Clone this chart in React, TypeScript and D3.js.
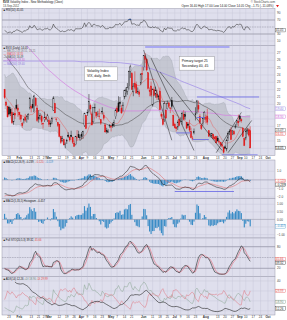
import React from "react";
import * as d3 from "d3";

// ---------------- DATA ----------------
// closes before the displayed window (Nov 1 - Dec 15, 2011), only used to warm up averages
const earlyCloses = [
  34.77, 32.74, 30.5, 30.16, 29.85, 29.23, 36.16, 32.81, 30.04, 31.13, 30.96, 32.91, 34.51, 32.0, 32.91, 33.0, 34.97, 34.47, 32.28, 31.35, 27.8,
  27.95, 27.52, 27.61, 27.04, 26.14, 30.59, 26.38, 27.91, 27.77, 26.0, 24.8,
];
// daily OHLC Dec 16, 2011 - Sep 13, 2012
const opens = [
  24.6, 25.0, 23.4, 22.6, 21.0, 20.6, 21.6, 21.9, 23.3, 23.0,
  22.5, 23.3, 22.6, 21.8, 21.4, 20.6, 21.2, 21.0, 21.6, 20.6, 22.0, 20.3, 19.7, 19.6, 19.3, 18.9, 17.6, 18.8, 19.9, 19.5,
  18.9, 18.5, 17.4, 17.8, 18.2, 17.9, 18.3, 19.6, 19.7, 20.0, 19.0, 20.8, 19.5, 18.0, 18.3, 18.4, 17.4, 17.9, 18.2, 17.9,
  17.8, 17.4, 17.5, 19.2, 20.1, 18.0, 17.5, 17.3, 15.6, 15.1, 15.2, 14.5, 15.0, 15.8, 15.5, 15.8, 15.5, 14.7, 14.5, 15.4, 15.9, 15.3,
  15.9, 15.6, 17.1, 18.5, 18.9, 19.0, 19.8, 18.7, 17.6, 19.5, 18.9, 18.6, 18.4, 17.9, 19.0, 18.5, 17.2, 16.4, 16.2, 17.0,
  17.0, 17.3, 17.2, 18.3, 19.5, 20.2, 20.3, 19.5, 19.9, 21.0, 21.5, 21.8, 22.4, 24.5, 24.2, 21.7, 22.9, 22.7, 21.6, 21.7, 22.9, 24.2,
  25.0, 26.5, 26.1, 24.3, 21.9, 22.5, 19.9, 22.0, 21.4, 21.4, 20.9, 21.8, 18.6, 18.0, 17.9, 19.2, 19.4, 20.2, 19.5, 20.5, 18.5,
  17.3, 16.9, 16.9, 17.9, 17.9, 17.6, 18.6, 18.6, 17.5, 17.3, 17.0, 16.3, 15.4, 16.1, 18.7, 18.9, 19.8, 18.3, 17.1, 17.4, 18.2,
  18.2, 18.4, 16.4, 15.9, 15.7, 15.9, 15.5, 15.6, 15.4, 14.9, 14.8, 14.5, 14.1, 14.2, 13.9, 15.4, 16.3, 16.5, 16.3, 16.3, 16.9, 17.5, 17.7,
  18.4, 17.9, 16.7, 15.3, 15.4, 16.3, 16.5, 16.4,
];
const highs = [
  25.6, 25.6, 23.5, 23.3, 21.3, 21.2, 22.3, 23.8, 23.5, 23.8,
  23.6, 23.4, 22.9, 21.9, 21.6, 21.5, 21.5, 21.3, 21.9, 22.3, 22.1, 20.5, 19.8, 19.8, 19.6, 19.5, 18.9, 19.5, 20.7, 20.0,
  19.0, 18.6, 17.6, 18.1, 18.7, 18.5, 18.8, 21.0, 20.0, 20.7, 21.3, 21.0, 19.9, 19.2, 18.8, 18.6, 17.5, 19.0, 18.4, 18.7,
  18.0, 17.8, 18.3, 21.1, 20.2, 18.1, 17.6, 17.3, 15.7, 15.7, 15.3, 14.8, 15.3, 16.2, 15.6, 16.4, 15.6, 14.9, 15.7, 16.5, 16.4, 15.8,
  16.2, 16.4, 18.8, 18.5, 19.3, 21.4, 20.1, 19.0, 19.6, 20.1, 19.0, 19.1, 19.4, 18.0, 19.6, 18.9, 17.4, 16.8, 16.6, 17.3,
  17.2, 17.5, 17.9, 19.4, 19.8, 21.1, 21.0, 19.9, 20.3, 22.0, 22.3, 22.9, 24.6, 25.4, 24.4, 22.9, 24.5, 23.1, 22.3, 22.0, 24.2, 25.1,
  26.7, 27.0, 26.3, 24.3, 22.3, 23.1, 22.1, 22.4, 22.4, 22.0, 21.3, 22.3, 18.9, 18.7, 20.4, 19.3, 20.5, 20.3, 19.6, 21.0, 18.6,
  17.5, 17.0, 17.8, 18.1, 18.2, 19.0, 19.2, 19.0, 17.6, 17.5, 17.9, 16.8, 15.7, 16.7, 19.6, 20.6, 20.5, 18.7, 17.3, 18.1, 19.1,
  18.6, 19.4, 16.4, 16.1, 16.1, 16.0, 15.7, 15.7, 15.7, 15.2, 14.9, 14.7, 14.3, 14.4, 15.3, 16.3, 16.6, 16.9, 16.5, 16.5, 17.3, 17.9, 18.6,
  18.5, 18.1, 16.9, 15.5, 16.5, 16.8, 16.7, 17.0,
];
const lows = [
  23.8, 24.0, 22.0, 21.1, 20.0, 20.0, 21.2, 21.6, 22.4, 22.5,
  22.1, 22.0, 21.3, 20.5, 20.7, 20.4, 20.6, 20.1, 20.6, 20.5, 20.7, 19.7, 18.2, 18.5, 18.4, 17.3, 17.2, 18.0, 19.3, 18.3,
  17.9, 17.6, 16.8, 17.4, 17.6, 17.5, 17.9, 19.3, 18.9, 19.4, 18.9, 19.7, 17.6, 17.5, 17.9, 17.2, 16.7, 17.6, 17.8, 17.6,
  16.9, 16.9, 17.3, 19.1, 18.8, 17.6, 16.9, 15.5, 14.6, 14.9, 14.4, 14.0, 14.6, 15.4, 14.9, 15.5, 14.6, 14.2, 14.4, 15.1, 15.4, 15.0,
  15.2, 15.3, 16.9, 16.6, 18.4, 18.9, 18.6, 17.1, 17.5, 18.8, 18.1, 18.3, 17.9, 17.2, 18.6, 17.8, 16.1, 16.0, 16.1, 16.8,
  16.3, 16.8, 16.9, 18.0, 18.8, 19.0, 19.6, 18.7, 19.0, 20.7, 21.0, 21.3, 22.0, 23.6, 22.0, 21.1, 22.1, 21.5, 21.4, 21.0, 22.6, 23.3,
  24.6, 25.6, 24.5, 22.0, 21.1, 21.0, 19.7, 21.1, 20.9, 20.6, 20.6, 19.2, 18.0, 17.1, 17.6, 18.1, 19.3, 19.5, 18.8, 19.4, 17.0,
  16.7, 16.3, 16.5, 17.0, 17.6, 17.2, 17.8, 17.9, 16.6, 16.8, 16.2, 15.4, 15.1, 15.9, 17.8, 18.7, 18.9, 17.3, 16.5, 17.1, 17.9,
  17.4, 17.2, 15.6, 15.5, 15.4, 15.2, 15.1, 14.7, 14.9, 14.5, 14.3, 14.1, 13.3, 13.9, 13.6, 15.0, 15.8, 15.1, 15.8, 15.8, 16.7, 17.1, 17.0,
  17.6, 17.5, 15.5, 14.3, 15.1, 15.9, 15.6, 14.0,
];
const closes = [
  24.29, 24.64, 22.22, 21.43, 20.15, 20.73, 21.91, 23.52, 22.65, 23.4,
  22.97, 22.22, 21.48, 20.63, 21.07, 20.69, 21.05, 20.47, 20.91, 22.2, 20.89, 19.87, 18.28, 18.67, 18.75, 17.48, 18.57, 18.53, 19.44, 19.2,
  18.55, 17.98, 17.1, 17.98, 17.84, 18.4, 18.63, 20.79, 19.46, 19.54, 21.14, 19.83, 17.78, 18.19, 18.45, 17.63, 17.31, 18.19, 17.95, 18.43,
  17.26, 17.29, 18.05, 20.87, 18.83, 17.95, 17.11, 15.64, 14.8, 15.31, 14.47, 14.57, 15.04, 15.58, 15.13, 15.57, 14.82, 14.26, 15.59, 15.47, 15.48, 15.5,
  15.64, 16.29, 18.81, 16.7, 18.81, 20.39, 19.36, 17.2, 19.55, 19.6, 18.46, 18.64, 18.36, 17.44, 18.97, 18.1, 16.24, 16.28, 16.32, 17.15,
  16.88, 17.05, 17.56, 19.16, 18.94, 19.05, 20.08, 18.83, 19.89, 21.87, 21.97, 22.27, 24.49, 25.1, 22.01, 22.48, 22.33, 21.54, 21.76, 21.35, 24.14, 24.06,
  26.66, 26.12, 24.68, 22.16, 21.72, 21.23, 22.09, 21.21, 21.88, 20.94, 21.11, 19.25, 18.35, 17.24, 20.08, 18.11, 20.11, 19.72, 19.45, 19.71, 17.08,
  16.8, 16.66, 17.5, 17.1, 17.98, 18.72, 17.95, 18.33, 16.74, 17.11, 16.48, 15.45, 15.35, 16.27, 18.62, 20.47, 19.34, 17.53, 16.7, 18.03, 18.93,
  17.96, 17.57, 15.64, 15.95, 15.99, 15.32, 15.28, 14.74, 15.02, 14.85, 14.48, 14.29, 13.45, 14.02, 15.11, 15.98, 16.27, 15.18, 16.35, 15.95, 17.06, 17.83, 17.47,
  17.98, 17.74, 15.6, 14.38, 16.28, 16.41, 15.8, 14.05,
];
// long moving averages
const maWeekDates = [
  "2012-01-17", "2012-01-23", "2012-01-30", "2012-02-06", "2012-02-13", "2012-02-21", "2012-02-27", "2012-03-05", "2012-03-12",
  "2012-03-19", "2012-03-26", "2012-04-02", "2012-04-09", "2012-04-16", "2012-04-23", "2012-04-30", "2012-05-07", "2012-05-14",
  "2012-05-21", "2012-05-29", "2012-06-04", "2012-06-11", "2012-06-18", "2012-06-25", "2012-07-02", "2012-07-09", "2012-07-16",
  "2012-07-23", "2012-07-30", "2012-08-06", "2012-08-13", "2012-08-20", "2012-08-27", "2012-09-04", "2012-09-10", "2012-09-13",
];
const ma100Values = [
  31.0, 30.5, 29.6, 28.5, 27.3, 26.2, 25.2, 24.3, 23.4, 22.6, 21.9, 21.3, 20.8, 20.4, 20.0, 19.6, 19.3, 19.1,
  19.1, 19.1, 19.2, 19.2, 19.2, 19.2, 19.1, 19.1, 19.0, 19.0, 18.9, 18.8, 18.7, 18.5, 18.5, 18.4, 18.3, 18.3,
];
const ma200Values = [
  25.9, 25.9, 25.9, 25.9, 25.9, 25.9, 25.9, 25.9, 25.9, 25.9, 25.9, 25.8, 25.8, 25.8, 25.8, 25.7, 25.7, 25.6,
  25.5, 25.3, 25.1, 24.8, 24.4, 24.0, 23.6, 23.2, 22.8, 22.4, 22.0, 21.6, 21.2, 20.8, 20.4, 20.0, 19.6, 19.4,
];
const tickDates = [
  "2012-01-23", "2012-02-01", "2012-02-13", "2012-02-21", "2012-02-27", "2012-03-01", "2012-03-12", "2012-03-19", "2012-03-26",
  "2012-04-02", "2012-04-09", "2012-04-16", "2012-04-23", "2012-05-01", "2012-05-07", "2012-05-14", "2012-05-21", "2012-06-01",
  "2012-06-11", "2012-06-18", "2012-06-25", "2012-07-02", "2012-07-09", "2012-07-16", "2012-07-23", "2012-08-01", "2012-08-13",
  "2012-08-20", "2012-08-27", "2012-09-04", "2012-09-10", "2012-09-17", "2012-09-24", "2012-10-01",
];
const tickLabels = [
  "23", "Feb", "13", "21", "27", "Mar", "12", "19", "26", "Apr", "9", "16", "23", "May", "7", "14", "21", "Jun",
  "11", "18", "25", "Jul", "9", "16", "23", "Aug", "13", "20", "27", "Sep", "10", "17", "24", "Oct",
];
const holidays = ["2011-11-24", "2011-12-26", "2012-01-02", "2012-01-16", "2012-02-20", "2012-04-06", "2012-05-28", "2012-07-04", "2012-09-03"];
const mainTicks = [14, 15, 16, 17, 18, 19, 20, 21, 22, 23, 24, 25, 26, 27];
const rsiTicks = [90, 70, 50, 30, 10];
const stochTicks = [80, 50, 20];
// drawn trend lines (start date/value -> end date/value)
const trendStartDates = ["2012-06-01", "2012-06-08", "2012-06-18", "2012-08-10", "2012-08-22"];
const trendStartValues = [27.4, 26.3, 24.4, 13.4, 13.4];
const trendEndDates = ["2012-06-28", "2012-07-20", "2012-08-16", "2012-09-05", "2012-09-14"];
const trendEndValues = [15.1, 13.7, 13.7, 18.9, 17.8];
// horizontal levels
const levelStartDates = ["2012-07-24", "2012-07-24", "2012-07-03", "2012-07-19", "2012-08-16"];
const levelEndDates = ["2012-09-21", "2012-07-31", "2012-07-18", "2012-08-03", "2012-09-20"];
const levelValues = [21.0, 18.2, 16.1, 15.2, 13.1];
const macdLevel = { start: "2012-07-02", end: "2012-08-28", value: -1.35 };
const topBar = { start: "2012-06-04", end: "2012-08-23" };
const note1 = { date: "2012-04-04", value: 25.1, lines: ["Volatility Index", "VIX, daily, 8mth"] };
const note2 = { date: "2012-07-06", value: 26.5, lines: ["Primary target 25", "Secondary 40, 45"] };

// ---------------- HELPERS ----------------
function tradingDays(start: string, end: string): string[] {
  const p = d3.timeParse("%Y-%m-%d");
  const fmt = d3.timeFormat("%Y-%m-%d");
  return d3.timeDay
    .range(p(start)!, d3.timeDay.offset(p(end)!, 1))
    .filter((d) => d.getDay() !== 0 && d.getDay() !== 6)
    .map(fmt)
    .filter((s) => !holidays.includes(s));
}
function sma(a: number[], n: number, partial = false): number[] {
  return a.map((_, i) => {
    if (i < n - 1 && !partial) return NaN;
    const s = a.slice(Math.max(0, i - n + 1), i + 1).filter((v) => !isNaN(v));
    return s.length ? (d3.mean(s) as number) : NaN;
  });
}
function psd(a: number[], n: number): number[] {
  return a.map((_, i) => {
    if (i < n - 1) return NaN;
    const s = a.slice(i - n + 1, i + 1);
    const m = d3.mean(s) as number;
    return Math.sqrt(d3.mean(s.map((v) => (v - m) * (v - m))) as number);
  });
}
function ema(a: number[], n: number): number[] {
  const k = 2 / (n + 1);
  let prev = a[0];
  return a.map((v, i) => (prev = i === 0 ? v : v * k + prev * (1 - k)));
}
function rsi(a: number[], n: number): number[] {
  const out = a.map(() => NaN);
  let g = 0, l = 0;
  for (let i = 1; i <= n; i++) {
    const d = a[i] - a[i - 1];
    if (d > 0) g += d; else l -= d;
  }
  g /= n; l /= n;
  out[n] = 100 - 100 / (1 + g / l);
  for (let i = n + 1; i < a.length; i++) {
    const d = a[i] - a[i - 1];
    g = (g * (n - 1) + Math.max(d, 0)) / n;
    l = (l * (n - 1) + Math.max(-d, 0)) / n;
    out[i] = 100 - 100 / (1 + g / l);
  }
  return out;
}
// standard Wilder ADX: first ADX is the mean of the first n DX values
function adxCalc(h: number[], l: number[], c: number[], n: number) {
  const len = c.length;
  const pdi = Array(len).fill(NaN), mdi = Array(len).fill(NaN), adx = Array(len).fill(NaN);
  let sTR = 0, sP = 0, sM = 0, av = NaN;
  const dxs: number[] = [];
  for (let i = 1; i < len; i++) {
    const tr = Math.max(h[i] - l[i], Math.abs(h[i] - c[i - 1]), Math.abs(l[i] - c[i - 1]));
    const up = h[i] - h[i - 1], dn = l[i - 1] - l[i];
    const p = up > dn && up > 0 ? up : 0, m = dn > up && dn > 0 ? dn : 0;
    if (i <= n) {
      sTR += tr; sP += p; sM += m;
      if (i < n) continue;
    } else {
      sTR = sTR - sTR / n + tr; sP = sP - sP / n + p; sM = sM - sM / n + m;
    }
    const P = (100 * sP) / sTR, M = (100 * sM) / sTR;
    const dx = (100 * Math.abs(P - M)) / (P + M || 1);
    pdi[i] = P; mdi[i] = M;
    if (dxs.length < n) {
      dxs.push(dx);
      if (dxs.length === n) {
        av = d3.mean(dxs) as number;
        adx[i] = av;
      }
    } else {
      av = (av * (n - 1) + dx) / n;
      adx[i] = av;
    }
  }
  return { pdi, mdi, adx };
}

// ---------------- COMPUTE ----------------
const dataDates = tradingDays("2011-12-16", "2012-09-13");
const slotDates = tradingDays("2012-01-17", "2012-10-05");
const N = Math.min(dataDates.length, closes.length, opens.length, highs.length, lows.length);
const slotOf = new Map(slotDates.map((d, i) => [d, i] as [string, number]));
const START = dataDates.indexOf("2012-01-18");
const OFF = earlyCloses.length;
const allC = earlyCloses.concat(closes.slice(0, N));

const ma10 = sma(allC, 10), ma50 = sma(allC, 50), bbMid = sma(allC, 20), bbSd = psd(allC, 20);
const e12 = ema(allC, 12), e26 = ema(allC, 26);
const macd = e12.map((v, i) => v - e26[i]);
const sig = ema(macd, 9);
const hist = macd.map((v, i) => v - sig[i]);
const e5 = ema(allC, 5), e35 = ema(allC, 35);
const m2 = e5.map((v, i) => v - e35[i]);
const s2 = ema(m2, 5);
const h2 = m2.map((v, i) => v - s2[i]);
const rsiV = rsi(allC, 14);
const rawK = closes.slice(0, N).map((c, i) => {
  const s = Math.max(0, i - 19);
  const hh = d3.max(highs.slice(s, i + 1)) as number, ll = d3.min(lows.slice(s, i + 1)) as number;
  return (100 * (c - ll)) / (hh - ll || 1);
});
const kSlow = sma(rawK, 5, true), dSlow = sma(kSlow, 3, true);
const ADX = adxCalc(highs, lows, closes, 14);

const idx = d3.range(START, N);
const LAST = N - 1;

// ---------------- LAYOUT ----------------
const PL = 2, PR = 275;
const panels = {
  rsi: [8.5, 45.5],
  main: [45.5, 155.5],
  macd: [160, 198.5],
  h2: [198.5, 238],
  stoch: [238, 276.5],
  adx: [276.5, 315],
};
const BG = "#dfdfed";
const GRID = "#c5c5d6";
const FONT = "'Liberation Sans', Arial, sans-serif";
const RED = "#e01a1a";
const BLUE = "#3a8cc6";

const x = d3.scaleLinear().domain([0, slotDates.length - 1]).range([3.1, 273.9]);
const xs = (d: string) => x(slotOf.get(d) ?? 0);
const xi = (i: number) => xs(dataDates[i]);

const yMain = d3.scaleLinear().domain([13.02, 28.02]).range([panels.main[1], panels.main[0]]);
const yRsi = d3.scaleLinear().domain([0, 100]).range([44.5, 9.5]);
const yStoch = d3.scaleLinear().domain([0, 100]).range([275.5, 239.5]);
function fitScale(vals: number[], top: number, bottom: number, padFrac = 0.08) {
  const ext = d3.extent(vals.filter((v) => isFinite(v))) as [number, number];
  const pad = (ext[1] - ext[0]) * padFrac;
  return d3.scaleLinear().domain([ext[0] - pad, ext[1] + pad]).range([bottom, top]);
}
const yMacd = fitScale(idx.flatMap((i) => [macd[i + OFF], sig[i + OFF], hist[i + OFF], macdLevel.value]), panels.macd[0] + 3, panels.macd[1]);
const yH2 = fitScale(idx.map((i) => h2[i + OFF]).concat([0]), panels.h2[0] + 2.5, panels.h2[1]);
const yAdx = fitScale(idx.flatMap((i) => [ADX.pdi[i], ADX.mdi[i], ADX.adx[i]]), panels.adx[0] + 3, panels.adx[1]);

const f2 = d3.format(".2f");
const f3 = d3.format(".3f");

function linePath(get: (i: number) => number, y: d3.ScaleLinear<number, number>, ids = idx) {
  return (
    d3
      .line<number>()
      .defined((i) => isFinite(get(i)))
      .x((i) => xi(i))
      .y((i) => y(get(i)))(ids) || ""
  );
}

function Panel({ k, id }: { k: keyof typeof panels; id: string }) {
  const [t, b] = panels[k];
  return (
    <g>
      <rect x={PL} y={t} width={PR - PL} height={b - t} fill={BG} stroke="#9898aa" strokeWidth={0.5} />
      <clipPath id={id}>
        <rect x={PL} y={t} width={PR - PL} height={b - t} />
      </clipPath>
      {tickDates.map((d, j) => (
        <line key={j} x1={xs(d)} x2={xs(d)} y1={t} y2={b} stroke={GRID} strokeWidth={0.4} />
      ))}
    </g>
  );
}
function HGrid({ ys }: { ys: number[] }) {
  return (
    <g>
      {ys.map((y, j) => (
        <line key={j} x1={PL} x2={PR} y1={y} y2={y} stroke={GRID} strokeWidth={0.4} />
      ))}
    </g>
  );
}
// right axis labels; labels hidden behind value tags are skipped (as the original does)
function AxisLabels({ ys, labels, tags = [] }: { ys: number[]; labels: string[]; tags?: number[] }) {
  return (
    <g fontSize={3.1} fill="#444">
      {ys.map((y, j) =>
        tags.some((t) => Math.abs(t - y) < 3.6) ? null : (
          <text key={j} x={277} y={y + 1.1}>
            {labels[j]}
          </text>
        )
      )}
    </g>
  );
}
function Tag({ y, text, color }: { y: number; text: string; color: string }) {
  return (
    <g>
      <rect x={275.3} y={y - 1.8} width={10.5} height={3.6} fill="#fff" stroke={color} strokeWidth={0.35} />
      <text x={276.1} y={y + 1.05} fontSize={2.9} fill={color}>
        {text}
      </text>
    </g>
  );
}
// spread tag positions so that they do not overlap
function spread(ys: number[], gap = 3.8): number[] {
  const order = ys.map((y, i) => [y, i]).sort((a, b) => a[0] - b[0]);
  const out = ys.slice();
  let prev = -Infinity;
  order.forEach(([y, i]) => {
    const ny = Math.max(y, prev + gap);
    out[i] = ny;
    prev = ny;
  });
  return out;
}
function XLabels({ y }: { y: number }) {
  return (
    <g fontSize={3.1} fill="#333" textAnchor="middle">
      {tickDates.map((d, j) => (
        <text key={j} x={xs(d)} y={y} fontWeight={/^[A-Z]/.test(tickLabels[j]) ? "bold" : "normal"}>
          {tickLabels[j]}
        </text>
      ))}
    </g>
  );
}

export default function App() {
  const lastClose = closes[LAST];
  const chg = lastClose - closes[LAST - 1];
  const bbArea = d3
    .area<number>()
    .x((i) => xi(i))
    .y0((i) => yMain(bbMid[i + OFF] - 2 * bbSd[i + OFF]))
    .y1((i) => yMain(bbMid[i + OFF] + 2 * bbSd[i + OFF]))(idx) || "";
  const weekLine = (vals: number[]) =>
    d3
      .line<number>()
      .x((j) => xs(maWeekDates[j]))
      .y((j) => yMain(vals[j]))
      .curve(d3.curveMonotoneX)(d3.range(maWeekDates.length)) || "";
  const rsiAbove = d3
    .area<number>()
    .defined((i) => isFinite(rsiV[i + OFF]))
    .x((i) => xi(i))
    .y0(yRsi(70))
    .y1((i) => yRsi(Math.max(70, rsiV[i + OFF])))(idx) || "";
  const rsiBelow = d3
    .area<number>()
    .defined((i) => isFinite(rsiV[i + OFF]))
    .x((i) => xi(i))
    .y0(yRsi(30))
    .y1((i) => yRsi(Math.min(30, rsiV[i + OFF])))(idx) || "";
  const bw = (x(1) - x(0)) * 0.78;
  const macdTicks = yMacd.ticks(5);
  const h2Ticks = yH2.ticks(5);
  const adxTicks = yAdx.ticks(4);

  const ma200L = ma200Values[ma200Values.length - 1];
  const ma100L = ma100Values[ma100Values.length - 1];
  const mainTagVals = [ma200L, ma100L, ma10[LAST + OFF], ma50[LAST + OFF], lastClose];
  const mainTagCols = ["#8a76de", "#c65ed2", "#e04a4a", "#555", "#111"];
  const mainTagYs = spread(mainTagVals.map((v) => yMain(v)));
  const macdTagVals = [macd[LAST + OFF], sig[LAST + OFF]];
  const macdTagYs = spread(macdTagVals.map((v) => yMacd(v)));
  const stoTagVals = [dSlow[LAST], kSlow[LAST]];
  const stoTagYs = spread(stoTagVals.map((v) => yStoch(v)));
  const adxTagVals = [ADX.mdi[LAST], ADX.pdi[LAST], ADX.adx[LAST]];
  const adxTagCols = ["#e04a4a", "#6f8a7a", "#222"];
  const adxTagYs = spread(adxTagVals.map((v) => yAdx(v)));
  const rsiTagY = yRsi(rsiV[LAST + OFF]);
  const h2TagY = yH2(h2[LAST + OFF]);

  return (
    <svg width={287} height={320} style={{ position: "absolute", left: 0, top: 0, background: "#fff" }} fontFamily={FONT}>
      {/* header */}
      <text x={3} y={3.3} fontSize={3} fill="#222" textLength={60} lengthAdjust="spacingAndGlyphs">
        <tspan fontWeight="bold">$VIX</tspan> Volatility Index - New Methodology (Cboe)
      </text>
      <text x={3} y={6.6} fontSize={2.8} fill="#444">
        13-Sep-2012
      </text>
      <text x={275} y={3.1} fontSize={2.8} fill="#444" textAnchor="end">
        © StockCharts.com
      </text>
      <text x={181.5} y={6.6} fontSize={2.8} fill="#222" textLength={92} lengthAdjust="spacingAndGlyphs">
        Open {f2(opens[LAST])} High {f2(highs[LAST])} Low {f2(lows[LAST])} Close {f2(lastClose)} Chg {f2(chg)} ({f2((chg / closes[LAST - 1]) * 100)}%)
      </text>
      <path d="M276,5 L279,5 L277.5,7.2 Z" fill={RED} />

      {/* ---------- RSI panel ---------- */}
      <Panel k="rsi" id="c-rsi" />
      <HGrid ys={rsiTicks.map((v) => yRsi(v))} />
      <line x1={PL} x2={PR} y1={yRsi(70)} y2={yRsi(70)} stroke="#7a7a8a" strokeWidth={0.5} />
      <line x1={PL} x2={PR} y1={yRsi(30)} y2={yRsi(30)} stroke="#7a7a8a" strokeWidth={0.5} />
      <line x1={PL} x2={PR} y1={yRsi(50)} y2={yRsi(50)} stroke="#8a8a9a" strokeWidth={0.4} strokeDasharray="1.5,1" />
      <g clipPath="url(#c-rsi)">
        <path d={rsiAbove} fill="#3a6fd0" />
        <path d={rsiBelow} fill="#3a6fd0" />
        <path d={linePath((i) => rsiV[i + OFF], yRsi)} fill="none" stroke="#333" strokeWidth={0.55} />
      </g>
      <text x={3.5} y={11.3} fontSize={2.8} fill="#222">
        ■ RSI(14) {f2(rsiV[LAST + OFF])}
      </text>
      <AxisLabels ys={rsiTicks.map((v) => yRsi(v))} labels={rsiTicks.map(String)} tags={[rsiTagY]} />
      <Tag y={rsiTagY} text={f2(rsiV[LAST + OFF])} color="#333" />

      {/* ---------- main price panel ---------- */}
      <Panel k="main" id="c-main" />
      <HGrid ys={mainTicks.map((v) => yMain(v))} />
      <g clipPath="url(#c-main)">
        <path d={bbArea} fill="#b4b8c0" opacity={0.6} />
        <path d={linePath((i) => bbMid[i + OFF] + 2 * bbSd[i + OFF], yMain)} fill="none" stroke="#a2a6b0" strokeWidth={0.4} />
        <path d={linePath((i) => bbMid[i + OFF] - 2 * bbSd[i + OFF], yMain)} fill="none" stroke="#a2a6b0" strokeWidth={0.4} />
        <path d={weekLine(ma200Values)} fill="none" stroke="#9c88e6" strokeWidth={0.7} />
        <path d={weekLine(ma100Values)} fill="none" stroke="#d67ee2" strokeWidth={0.7} />
        <path d={linePath((i) => ma50[i + OFF], yMain)} fill="none" stroke="#4a4a4a" strokeWidth={0.55} />
        <path d={linePath((i) => ma10[i + OFF], yMain)} fill="none" stroke="#e46a6a" strokeWidth={0.55} />
        {idx.map((i) => {
          const cx = xi(i);
          const col = closes[i] >= closes[i - 1] ? "#111" : RED;
          const filled = closes[i] < opens[i];
          const yt = yMain(Math.max(opens[i], closes[i]));
          const yb = yMain(Math.min(opens[i], closes[i]));
          return (
            <g key={i}>
              <line x1={cx} x2={cx} y1={yMain(highs[i])} y2={yMain(lows[i])} stroke={col} strokeWidth={0.5} />
              <rect x={cx - bw / 2} y={yt} width={bw} height={Math.max(0.4, yb - yt)} fill={filled ? col : BG} stroke={col} strokeWidth={0.35} />
            </g>
          );
        })}
        {trendStartDates.map((d, j) => (
          <line key={j} x1={xs(d)} y1={yMain(trendStartValues[j])} x2={xs(trendEndDates[j])} y2={yMain(trendEndValues[j])} stroke="#1a1a1a" strokeWidth={0.5} />
        ))}
        {levelStartDates.map((d, j) => (
          <line key={j} x1={xs(d)} x2={xs(levelEndDates[j])} y1={yMain(levelValues[j])} y2={yMain(levelValues[j])} stroke="#6464e4" strokeWidth={0.8} />
        ))}
        <line x1={xs(topBar.start)} x2={xs(topBar.end)} y1={panels.main[0] + 1.4} y2={panels.main[0] + 1.4} stroke="#a9a9f2" strokeWidth={2} />
      </g>
      {[note1, note2].map((n, j) => {
        const bx = xs(n.date), by = yMain(n.value);
        const w = j === 0 ? 33 : 35;
        return (
          <g key={j}>
            <rect x={bx} y={by} width={w} height={13.5} fill="#fff" stroke="#888" strokeWidth={0.4} />
            <text x={bx + 2.5} y={by + 5} fontSize={3.4} fill="#111">
              {n.lines[0]}
            </text>
            <text x={bx + 2.5} y={by + 10} fontSize={3.4} fill="#111">
              {n.lines[1]}
            </text>
          </g>
        );
      })}
      <g fontSize={2.7}>
        <text x={3.5} y={48.6} fill="#111">■ $VIX (Daily) {f2(lastClose)}</text>
        <text x={3.5} y={51.8} fill="#777">— BB(20,2.0) {f2(bbMid[LAST + OFF] + 2 * bbSd[LAST + OFF])}, {f2(bbMid[LAST + OFF] - 2 * bbSd[LAST + OFF])}</text>
        <text x={3.5} y={55} fill="#e04a4a">— MA(10) {f2(ma10[LAST + OFF])}</text>
        <text x={3.5} y={58.2} fill="#444">— MA(50) {f2(ma50[LAST + OFF])}</text>
        <text x={3.5} y={61.4} fill="#c65ed2">— MA(100) {f2(ma100L)}</text>
        <text x={3.5} y={64.6} fill="#8a76de">— MA(200) {f2(ma200L)}</text>
      </g>
      <AxisLabels ys={mainTicks.map((v) => yMain(v))} labels={mainTicks.map((v) => String(v))} tags={mainTagYs} />
      {mainTagVals.map((v, j) => (
        <Tag key={j} y={mainTagYs[j]} text={f2(v)} color={mainTagCols[j]} />
      ))}
      <XLabels y={158.6} />

      {/* ---------- MACD panel ---------- */}
      <Panel k="macd" id="c-macd" />
      <HGrid ys={macdTicks.map((v) => yMacd(v))} />
      <g clipPath="url(#c-macd)">
        {idx.map((i) => {
          const v = hist[i + OFF];
          return <rect key={i} x={xi(i) - bw / 2} width={bw} y={Math.min(yMacd(0), yMacd(v))} height={Math.abs(yMacd(v) - yMacd(0))} fill={BLUE} />;
        })}
        <line x1={PL} x2={PR} y1={yMacd(0)} y2={yMacd(0)} stroke="#8a8a9a" strokeWidth={0.4} />
        <path d={linePath((i) => sig[i + OFF], yMacd)} fill="none" stroke="#e46a6a" strokeWidth={0.55} />
        <path d={linePath((i) => macd[i + OFF], yMacd)} fill="none" stroke="#222" strokeWidth={0.55} />
        <line x1={xs(macdLevel.start)} x2={xs(macdLevel.end)} y1={yMacd(macdLevel.value)} y2={yMacd(macdLevel.value)} stroke="#6464e4" strokeWidth={0.8} />
      </g>
      <text x={3.5} y={163} fontSize={2.7}>
        <tspan fill="#111">■ MACD(12,26,9) {f3(macd[LAST + OFF])}, </tspan>
        <tspan fill="#e04a4a">{f3(sig[LAST + OFF])}, </tspan>
        <tspan fill={BLUE}>{f3(hist[LAST + OFF])}</tspan>
      </text>
      <AxisLabels ys={macdTicks.map((v) => yMacd(v))} labels={macdTicks.map((v) => d3.format(".1f")(v))} tags={macdTagYs} />
      <Tag y={macdTagYs[0]} text={f3(macdTagVals[0])} color="#222" />
      <Tag y={macdTagYs[1]} text={f3(macdTagVals[1])} color="#e04a4a" />

      {/* ---------- second histogram panel ---------- */}
      <Panel k="h2" id="c-h2" />
      <HGrid ys={h2Ticks.map((v) => yH2(v))} />
      <g clipPath="url(#c-h2)">
        {idx.map((i) => {
          const v = h2[i + OFF];
          return <rect key={i} x={xi(i) - bw / 2} width={bw} y={Math.min(yH2(0), yH2(v))} height={Math.abs(yH2(v) - yH2(0))} fill={BLUE} />;
        })}
        <line x1={PL} x2={PR} y1={yH2(0)} y2={yH2(0)} stroke="#8a8a9a" strokeWidth={0.4} />
      </g>
      <text x={3.5} y={201.6} fontSize={2.7} fill="#111">
        ■ MACD(5,35,5) Histogram {f3(h2[LAST + OFF])}
      </text>
      <AxisLabels ys={h2Ticks.map((v) => yH2(v))} labels={h2Ticks.map((v) => d3.format(".2f")(v))} tags={[h2TagY]} />
      <Tag y={h2TagY} text={f3(h2[LAST + OFF])} color={BLUE} />

      {/* ---------- stochastics panel ---------- */}
      <Panel k="stoch" id="c-stoch" />
      <HGrid ys={stochTicks.map((v) => yStoch(v))} />
      <line x1={PL} x2={PR} y1={yStoch(80)} y2={yStoch(80)} stroke="#7a7a8a" strokeWidth={0.5} />
      <line x1={PL} x2={PR} y1={yStoch(20)} y2={yStoch(20)} stroke="#7a7a8a" strokeWidth={0.5} />
      <line x1={PL} x2={PR} y1={yStoch(50)} y2={yStoch(50)} stroke="#8a8a9a" strokeWidth={0.4} strokeDasharray="1.5,1" />
      <g clipPath="url(#c-stoch)">
        <path d={linePath((i) => dSlow[i], yStoch)} fill="none" stroke="#e46a7a" strokeWidth={0.6} />
        <path d={linePath((i) => kSlow[i], yStoch)} fill="none" stroke="#222" strokeWidth={0.6} />
      </g>
      <text x={3.5} y={241.2} fontSize={2.7}>
        <tspan fill="#111">■ Full STO(20,5,3) {f2(kSlow[LAST])}, </tspan>
        <tspan fill="#e04a4a">{f2(dSlow[LAST])}</tspan>
      </text>
      <AxisLabels ys={stochTicks.map((v) => yStoch(v))} labels={stochTicks.map(String)} tags={stoTagYs} />
      <Tag y={stoTagYs[0]} text={f2(stoTagVals[0])} color="#e04a4a" />
      <Tag y={stoTagYs[1]} text={f2(stoTagVals[1])} color="#222" />

      {/* ---------- ADX panel ---------- */}
      <Panel k="adx" id="c-adx" />
      <HGrid ys={adxTicks.map((v) => yAdx(v))} />
      <g clipPath="url(#c-adx)">
        <path d={linePath((i) => ADX.pdi[i], yAdx)} fill="none" stroke="#8fa898" strokeWidth={0.55} />
        <path d={linePath((i) => ADX.mdi[i], yAdx)} fill="none" stroke="#e07a86" strokeWidth={0.55} />
        <path d={linePath((i) => ADX.adx[i], yAdx)} fill="none" stroke="#222" strokeWidth={0.6} />
      </g>
      <text x={3.5} y={279.6} fontSize={2.7}>
        <tspan fill="#111">■ ADX(14) {f2(ADX.adx[LAST])} </tspan>
        <tspan fill="#6f8a7a">+DI {f2(ADX.pdi[LAST])} </tspan>
        <tspan fill="#e04a4a">-DI {f2(ADX.mdi[LAST])}</tspan>
      </text>
      <AxisLabels ys={adxTicks.map((v) => yAdx(v))} labels={adxTicks.map((v) => String(v))} tags={adxTagYs} />
      {adxTagVals.map((v, j) => (
        <Tag key={j} y={adxTagYs[j]} text={f2(v)} color={adxTagCols[j]} />
      ))}
      <XLabels y={318.4} />
    </svg>
  );
}
